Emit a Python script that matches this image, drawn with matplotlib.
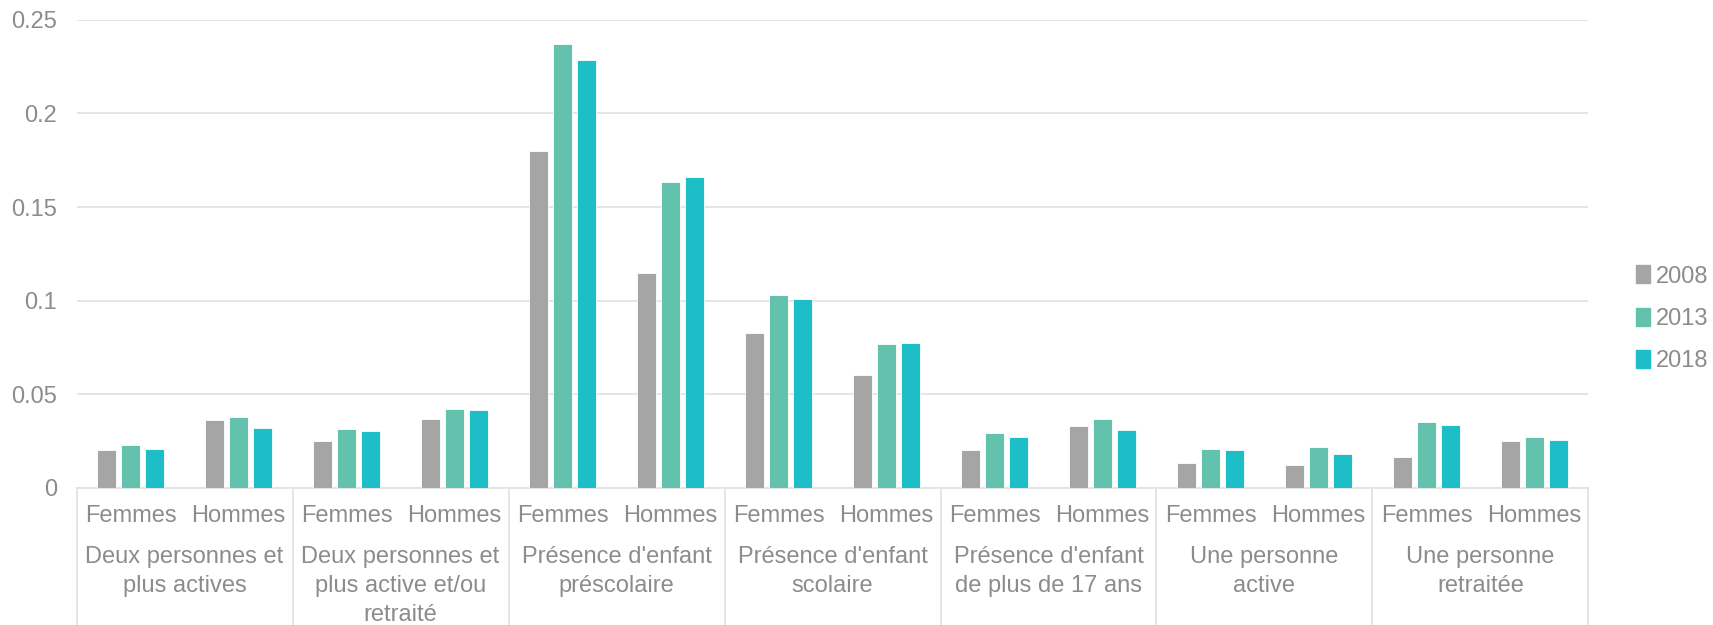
import numpy as np
import matplotlib
matplotlib.use("Agg")
import matplotlib.pyplot as plt
from matplotlib.patches import Patch

# data
groups = ["Deux personnes et\nplus actives",
          "Deux personnes et\nplus active et/ou\nretraité",
          "Présence d'enfant\npréscolaire",
          "Présence d'enfant\nscolaire",
          "Présence d'enfant\nde plus de 17 ans",
          "Une personne\nactive",
          "Une personne\nretraitée"]
sexes = ["Femmes", "Hommes"]
years = ["2008", "2013", "2018"]

v2008 = [0.0202, 0.0361, 0.0250, 0.0370, 0.1800, 0.1146, 0.0830, 0.0604,
         0.0202, 0.0330, 0.0136, 0.0121, 0.0168, 0.0250]
v2013 = [0.0229, 0.0379, 0.0315, 0.0422, 0.2368, 0.1633, 0.1032, 0.0769,
         0.0291, 0.0366, 0.0207, 0.0220, 0.0352, 0.0270]
v2018 = [0.0206, 0.0322, 0.0304, 0.0415, 0.2287, 0.1658, 0.1007, 0.0776,
         0.0273, 0.0311, 0.0202, 0.0180, 0.0336, 0.0254]

colors = ["#A5A5A5", "#63C2AE", "#1DBEC8"]
text_col = "#8C8C8C"
line_col = "#E3E3E3"
fs = 17

plt.rcParams['font.family'] = ['Liberation Sans', 'DejaVu Sans']

fig = plt.figure(figsize=(17.13, 6.25), dpi=100)
ax = fig.add_axes([0.0447, 0.2192, 0.9273 - 0.0447, 0.9685 - 0.2192])

x = np.arange(len(v2008))
step = 0.222
width = 0.18
for i, (vals, c) in enumerate(zip([v2008, v2013, v2018], colors)):
    ax.bar(x + (i - 1) * step, vals, width=width, color=c, edgecolor="white",
           linewidth=0.6, zorder=3, label=years[i])

ax.set_xlim(-0.5, len(x) - 0.5)
ax.set_ylim(0, 0.25)
ax.set_yticks([0, 0.05, 0.1, 0.15, 0.2, 0.25])
ax.set_yticklabels(["0", "0.05", "0.1", "0.15", "0.2", "0.25"])
ax.tick_params(axis="y", length=0, pad=14, labelsize=fs, labelcolor=text_col)
ax.grid(axis="y", color=line_col, linewidth=1.3, zorder=0)
for s in ["top", "right", "left"]:
    ax.spines[s].set_visible(False)
ax.spines["bottom"].set_color(line_col)
ax.spines["bottom"].set_linewidth(1.3)
ax.set_xticks([])

# two-level category axis
trans = ax.get_xaxis_transform()
for k in range(len(groups) + 1):
    xs = -0.5 + 2 * k
    ax.plot([xs, xs], [0, -0.30], transform=trans, color=line_col,
            linewidth=1.3, clip_on=False)
for j in range(len(x)):
    ax.text(j, -0.06, sexes[j % 2], transform=trans, ha="center", va="center",
            fontsize=fs, color=text_col)
for k, g in enumerate(groups):
    ax.text(2 * k + 0.5, -0.124, g, transform=trans, ha="center", va="top",
            fontsize=fs, color=text_col, linespacing=1.42)

handles = [Patch(color=c, label=y) for c, y in zip(colors, years)]
fig.legend(handles=handles, loc="center left", bbox_to_anchor=(0.955, 0.49),
           frameon=False, fontsize=fs, labelcolor=text_col, handlelength=0.6,
           handleheight=0.8, handletextpad=0.25, labelspacing=0.85,
           borderaxespad=0, borderpad=0)

fig.savefig("out.png", dpi=100)
